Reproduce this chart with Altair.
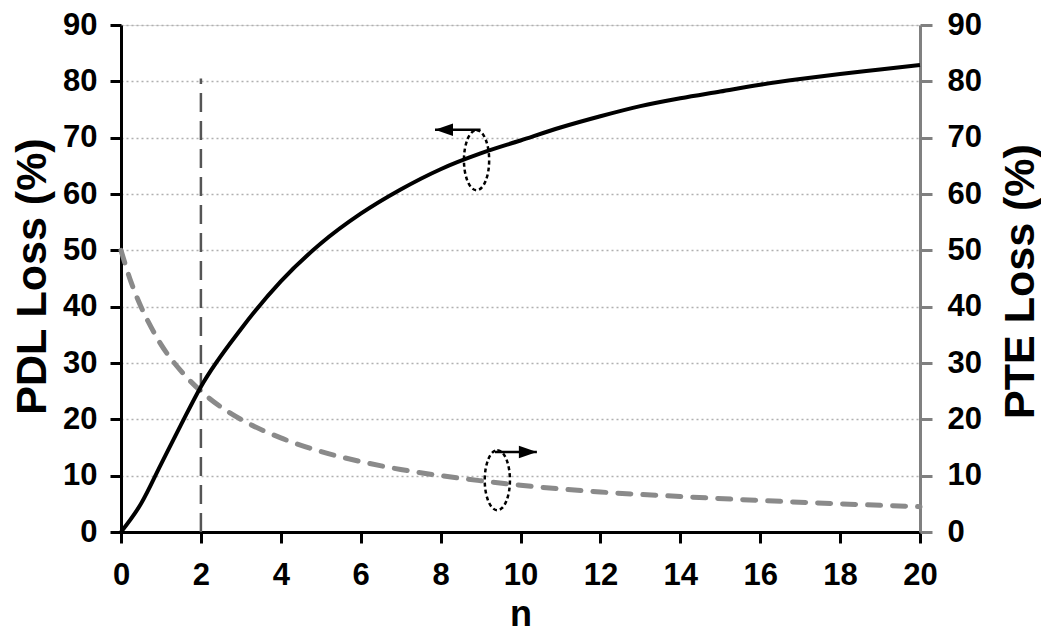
import altair as alt
import pandas as pd

# ---- data ----
n_pdl = [0, 0.5, 1, 1.5, 2, 3, 4, 5, 6, 7, 8, 9, 10, 11, 12, 13, 14, 15, 16, 17, 18, 19, 20]
pdl = [0, 5, 12, 19, 25.8, 36, 44.5, 51.2, 56.5, 60.8, 64.4, 67.2, 69.5, 71.8, 73.8, 75.6, 77, 78.2, 79.4, 80.4, 81.3, 82.1, 82.9]

n_pte = [0, 0.25, 0.5, 0.75, 1, 1.5, 2, 2.5, 3, 4, 5, 6, 7, 8, 9, 10, 12, 14, 16, 18, 20]
pte = [50, 44.4, 40, 36.4, 33.3, 28.6, 25, 22.2, 20, 16.7, 14.3, 12.5, 11.1, 10, 9.1, 8.3, 7.1, 6.3, 5.6, 5, 4.5]

marker_n = [2]
marker_bottom = [0]
marker_top = [80.5]

ell_n = [8.9, 9.42]
ell_v = [66, 9.2]

arrow_from = [9.0, 9.36]
arrow_tip = [7.86, 10.41]
arrow_v = [71.4, 14.2]
arrow_dir = ["left", "right"]

x_ticks = list(range(0, 21, 2))
y_ticks = list(range(0, 91, 10))

FONT = "Liberation Sans"

df_pdl = pd.DataFrame({"n": n_pdl, "pdl": pdl})
df_pte = pd.DataFrame({"n": n_pte, "pte": pte})
df_marker = pd.DataFrame({"n": marker_n, "y0": marker_bottom, "y1": marker_top})
df_ell = pd.DataFrame({"n": ell_n, "v": ell_v})
df_arrow = pd.DataFrame({"n0": arrow_from, "n1": arrow_tip, "v": arrow_v, "dir": arrow_dir})

xscale = alt.Scale(domain=[0, 20], nice=False, zero=False)
yscale = alt.Scale(domain=[0, 90], nice=False)

LABEL_SIZE = 31

x_axis = alt.Axis(values=x_ticks, title="n", grid=False, domainColor="black", domainWidth=3,
                  tickColor="black", tickWidth=3, tickSize=11, labelFont=FONT, labelFontSize=LABEL_SIZE,
                  labelFontWeight="bold", labelColor="black", labelPadding=17, labelFlush=False,
                  labelOverlap=False, titleFont=FONT, titleFontSize=36, titleFontWeight="bold",
                  titleColor="black", titleBaseline="alphabetic", titleY=93)

left_axis = alt.Axis(values=y_ticks, title="PDL Loss (%)", grid=True, gridDash=[2, 3], gridColor="#b0b0b0",
                     gridWidth=1.5, domainColor="black", domainWidth=3, tickColor="black", tickWidth=3,
                     tickSize=11, labelFont=FONT, labelFontSize=LABEL_SIZE, labelFontWeight="bold",
                     labelColor="black", labelPadding=13, labelOverlap=False, labelFlush=False,
                     titleFont=FONT, titleFontSize=43, titleFontWeight="bold", titleColor="black",
                     titleAngle=270, titleBaseline="alphabetic", titleAlign="center", titleX=-76, titleY=251)

right_axis = alt.Axis(values=y_ticks, title="PTE Loss (%)", orient="right", grid=False, domainColor="#808080",
                      domainWidth=3, tickColor="#808080", tickWidth=3, tickSize=12, labelFont=FONT,
                      labelFontSize=LABEL_SIZE, labelFontWeight="bold", labelColor="black", labelPadding=15,
                      labelOverlap=False, labelFlush=False, titleFont=FONT, titleFontSize=43,
                      titleFontWeight="bold", titleColor="black", titleAngle=270, titleBaseline="alphabetic",
                      titleAlign="center", titleX=113, titleY=256)


def X(field):
    return alt.X(field, type="quantitative", scale=xscale, axis=x_axis)


def YL(field):
    return alt.Y(field, type="quantitative", scale=yscale, axis=left_axis)


pdl_line = alt.Chart(df_pdl).mark_line(color="black", strokeWidth=4, interpolate="monotone").encode(
    x=X("n"), y=YL("pdl"))

marker = alt.Chart(df_marker).mark_rule(color="#555555", strokeWidth=2.5, strokeDash=[19, 9]).encode(
    x=X("n"), y=YL("y0"), y2="y1")

ellipse_path = ("M0,-1 C0.232,-1 0.42,-0.5523 0.42,0 C0.42,0.5523 0.232,1 0,1 "
                "C-0.232,1 -0.42,0.5523 -0.42,0 C-0.42,-0.5523 -0.232,-1 0,-1 Z")
ellipses = alt.Chart(df_ell).mark_point(shape=ellipse_path, size=3600, filled=False, stroke="black",
                                        strokeWidth=2.5, strokeDash=[4, 3], opacity=1).encode(
    x=X("n"), y=YL("v"))

arrow_lines = alt.Chart(df_arrow).mark_rule(color="black", strokeWidth=2.5).encode(
    x=X("n0"), x2="n1", y=YL("v"))

head_left = "M0,0 L2,-0.7 L2,0.7 Z"
head_right = "M0,0 L-2,-0.7 L-2,0.7 Z"
heads = alt.Chart(df_arrow).mark_point(filled=True, color="black", size=324, opacity=1).encode(
    x=X("n1"), y=YL("v"),
    shape=alt.Shape("dir:N", scale=alt.Scale(domain=["left", "right"], range=[head_left, head_right]),
                    legend=None))

left_group = alt.layer(marker, pdl_line, ellipses, arrow_lines, heads)

pte_line = alt.Chart(df_pte).mark_line(color="#8a8a8a", strokeWidth=5, strokeDash=[13, 12], strokeCap="round",
                                       interpolate="monotone").encode(
    x=X("n"), y=alt.Y("pte", type="quantitative", scale=yscale, axis=right_axis))

chart = alt.layer(pte_line, left_group).resolve_scale(y="independent").properties(
    width=799, height=507,
    autosize=alt.AutoSizeParams(type="none"),
    padding={"left": 113, "top": 17, "right": 121, "bottom": 100},
).configure_view(stroke=None).configure(background="white")

chart.save("out.html", embed_options={"renderer": "svg", "actions": False})
